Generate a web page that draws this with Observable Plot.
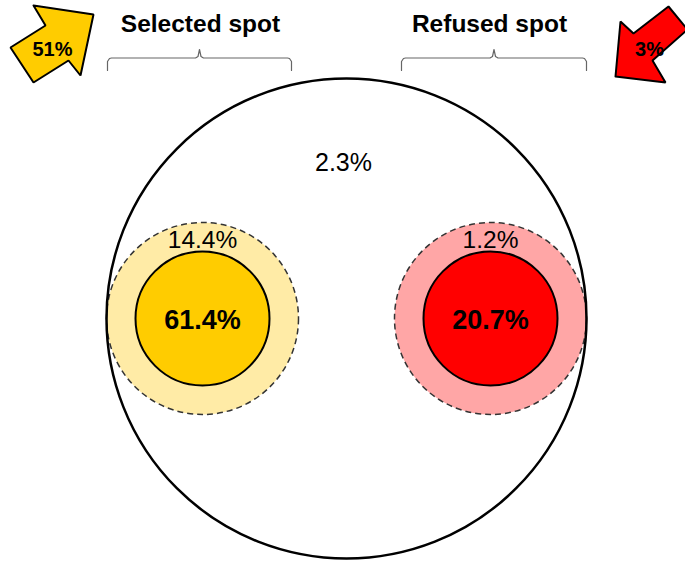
<!DOCTYPE html>
<html>
<head>
<meta charset="utf-8">
<script src="https://cdn.jsdelivr.net/npm/d3@7"></script>
<script src="https://cdn.jsdelivr.net/npm/@observablehq/plot@0.6"></script>
<style>
  html, body { margin: 0; padding: 0; background: #fff; }
  #chart svg { display: block; }
</style>
</head>
<body>
<div id="chart"></div>
<script>
// ---- data ----
const groups = ["Selected spot", "Refused spot"];
const coreShare = [61.4, 20.7];     // inner solid circles
const haloShare = [14.4, 1.2];      // dashed halo rings
const outsideShare = 2.3;           // rest of big circle
const arrowShare = [51, 3];         // corner arrows

// ---- layout (pixels) ----
const W = 685, H = 563;
const big = {x: 346, y: 318, r: 240};
const groupX = [202, 490];
const groupY = 318;
const haloR = 96, coreR = 67;
const coreFill = ["#FFCC00", "#FF0000"];
const haloFill = ["#FFEBA6", "#FFA6A6"];
const font = "'Liberation Sans', Arial, sans-serif";

const circles = groups.map((g, i) => ({group: g, x: groupX[i], y: groupY, core: coreShare[i], halo: haloShare[i]}));

// arrow outlines (layout shapes)
const arrowShapes = [
  {share: arrowShare[0], fill: "#FFCC00", label: [52, 49],
   pts: [[33,5],[93,14],[80,75],[68,60],[33,82],[10,47],[45,25],[33,5]]},
  {share: arrowShare[1], fill: "#FF0000", label: [649, 49],
   pts: [[615,76],[620,21],[633,33],[668,6],[687,29],[652,60],[665,82],[615,76]]}
];
const arrowRows = arrowShapes.flatMap((a, k) => a.pts.map(([x, y]) => ({k, x, y, fill: a.fill})));

// braces under the titles
function brace(x0, x1, k) {
  const m = (x0 + x1) / 2;
  return [[x0,70],[x0,61],[x0+2,58],[x0+4,57.5],[m-4,57.5],[m-1.5,56],[m,49],[m+1.5,56],[m+4,57.5],[x1-4,57.5],[x1-2,58],[x1,61],[x1,70]]
    .map(([x, y]) => ({k, x, y}));
}
const braceRows = [...brace(107, 291, 0), ...brace(401, 586, 1)];
const titleX = [200, 489];

const pct = v => v.toFixed(1) + "%";

const chart = Plot.plot({
  width: W, height: H, margin: 0,
  x: {domain: [0, W], range: [0, W], axis: null},
  y: {domain: [0, H], range: [0, H], axis: null},
  r: {type: "identity"},
  style: {background: "#fff"},
  marks: [
    // big circle fill
    Plot.dot([big], {x: "x", y: "y", r: "r", fill: "white", stroke: "none"}),
    // halos
    Plot.dot(circles, {x: "x", y: "y", r: haloR, fill: (d, i) => haloFill[i], stroke: "#333", strokeWidth: 1.5, strokeDasharray: "6,4"}),
    // big circle outline on top
    Plot.dot([big], {x: "x", y: "y", r: "r", fill: "none", stroke: "black", strokeWidth: 2.5}),
    // cores
    Plot.dot(circles, {x: "x", y: "y", r: coreR, fill: (d, i) => coreFill[i], stroke: "black", strokeWidth: 2}),
    // labels
    Plot.text(circles, {x: "x", y: d => d.y + 2, text: d => pct(d.core), fontSize: 27, fontWeight: "bold", fill: "black", fontFamily: font}),
    Plot.text(circles, {x: "x", y: d => d.y - 78, text: d => pct(d.halo), fontSize: 24.5, fill: "black", fontFamily: font}),
    Plot.text([outsideShare], {x: 343, y: 162, text: d => pct(d), fontSize: 25, fill: "black", fontFamily: font}),
    // titles
    Plot.text(groups, {x: (d, i) => titleX[i], y: 24, text: d => d, fontSize: 24.5, fontWeight: "bold", fill: "black", fontFamily: font}),
    // braces
    Plot.line(braceRows, {x: "x", y: "y", z: "k", stroke: "#666", strokeWidth: 1.2}),
    // arrows
    Plot.line(arrowRows, {x: "x", y: "y", z: "k", fill: "fill", stroke: "black", strokeWidth: 2, strokeLinejoin: "miter"}),
    Plot.text(arrowShapes, {x: d => d.label[0], y: d => d.label[1], text: d => d.share + "%", fontSize: 20, fontWeight: "bold", fill: "black", fontFamily: font})
  ]
});
document.getElementById("chart").appendChild(chart);
</script>
</body>
</html>
